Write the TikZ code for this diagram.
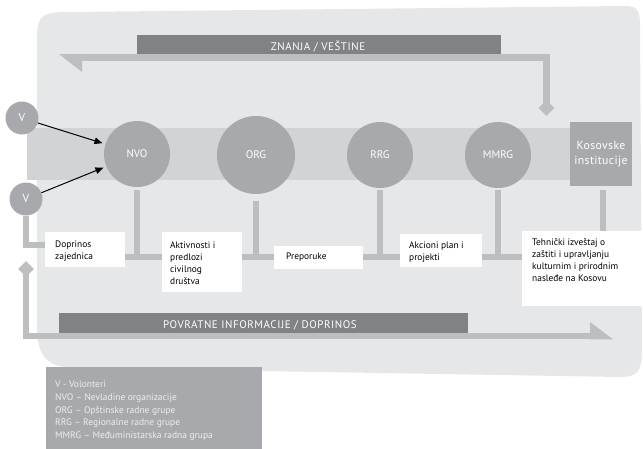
\documentclass[tikz,border=0pt]{standalone}
\usepackage{fontspec}
\setmainfont{PT Sans}
\newfontfamily\barfont[LetterSpace=5]{PT Sans}
\newfontfamily\kosfont[LetterSpace=3]{PT Sans}
\usetikzlibrary{arrows.meta,shapes.geometric}
\definecolor{blobc}{HTML}{E6E7E8}
\definecolor{bandc}{HTML}{D1D3D4}
\definecolor{circc}{HTML}{A7A9AC}
\definecolor{darkc}{HTML}{808285}
\definecolor{linec}{HTML}{BCBEC0}
\definecolor{legtext}{HTML}{EEEEEF}
\pgfdeclarelayer{bgA}
\pgfdeclarelayer{bgB}
\pgfsetlayers{bgA,bgB,main}
\begin{document}
\begin{tikzpicture}[x=1pt,y=-1pt,
  circ/.style={circle, fill=circc, inner sep=0, text=white, font=\fontsize{11}{13}\selectfont},
  wbox/.style={fill=white, inner sep=0, anchor=north west},
  txt/.style={anchor=north west, inner sep=0, align=left, font=\fontsize{9.4}{11.9}\selectfont},
  conn/.style={draw=linec, line width=6.5pt, line join=miter},
  bar/.style={fill=darkc, inner sep=0, anchor=north west},
  bartxt/.style={text=white, inner sep=0, font=\barfont\fontsize{11}{12}\selectfont, anchor=base},
  dmd/.style={diamond, fill=linec, inner sep=0, minimum width=16pt, minimum height=16pt},
  varrow/.style={draw=black, line width=1pt, -{Triangle[length=8pt,width=6.5pt]}, shorten >=3pt}
]
\useasboundingbox (0,0) rectangle (643,448);

% circles and institution box
\node[circ, minimum size=66pt] (nvo) at (137,154) {NVO};
\node[circ, minimum size=78pt] (org) at (256,155) {ORG};
\node[circ, minimum size=66pt] (rrg) at (380,155) {RRG};
\node[circ, minimum size=66pt] (mmrg) at (498,155) {MMRG};
\node[fill=circc, minimum width=62pt, minimum height=64pt, inner sep=0, text=white, align=center, font=\kosfont\fontsize{11.8}{15.5}\selectfont] (kos) at (601,154) {Kosovske\\institucije};
\node[circ, minimum size=33pt, font=\fontsize{11.5}{13}\selectfont] (v1) at (22,118) {V};
\node[circ, minimum size=33pt, font=\fontsize{11.5}{13}\selectfont] (v2) at (26,199) {V};

% white boxes
\node[wbox, minimum width=80pt, minimum height=35pt] (dop) at (45,232) {};
\node[wbox, minimum width=80pt, minimum height=60pt] (akt) at (162,232) {};
\node[wbox, minimum width=89pt, minimum height=23pt] (pre) at (274,246) {};
\node[wbox, minimum width=82pt, minimum height=33pt] (akc) at (400,234) {};
\node[wbox, minimum width=120pt, minimum height=75pt] (teh) at (522,231) {};

\node[txt] (tdop) at (55,239.3) {\rule{0pt}{8pt}Doprinos\\zajednica};
\node[txt] (takt) at (170,240.3) {\rule{0pt}{8pt}Aktivnosti i\\predlozi\\civilnog\\društva};
\node[txt] (tpre) at (286,251.3) {\rule{0pt}{8pt}Preporuke};
\node[txt] (takc) at (409,240.3) {\rule{0pt}{8pt}Akcioni plan i\\projekti};
\node[txt] (tteh) at (532,237.3) {\rule{0pt}{8pt}Tehnički izveštaj o\\zaštiti i upravljanju\\kulturnim i prirodnim\\nasleđe na Kosovu};

% bars
\node[bar, minimum width=364pt, minimum height=19pt] (znanja) at (137,35) {};
\node[bartxt] (tzn) at (318,50) {ZNANJA / VEŠTINE};
\node[bar, minimum width=409pt, minimum height=20pt] (povr) at (59,313) {};
\node[bartxt] (tpov) at (260,328.3) {POVRATNE INFORMACIJE / DOPRINOS};

% diamonds
\node[dmd] (d1) at (546.5,108) {};
\node[dmd] (d2) at (26,269) {};

% legend
\node[fill=circc, anchor=north west, minimum width=216pt, minimum height=85pt, inner sep=0] (leg) at (46,367) {};
\node[anchor=north west, inner sep=0, align=left, text=legtext, font=\fontsize{9.5}{12.9}\selectfont] (legt) at (55,379) {\rule{0pt}{8pt}V - Volonteri\\NVO – Nevladine organizacije\\ORG – Opštinske radne grupe\\RRG – Regionalne radne grupe\\MMRG – Međuministarska radna grupa};

% volunteer arrows
\draw[varrow] (v1) -- (nvo);
\draw[varrow] (v2) -- (nvo);

\begin{pgfonlayer}{bgA}
\fill[blobc] (37,36) .. controls (37,14) and (45,12) .. (70,12) -- (625,6) .. controls (637,6) and (640,10) .. (640,25) -- (642,350) .. controls (642,372) and (637,377) .. (620,377) -- (80,368) .. controls (50,368) and (38,360) .. (37,330) -- cycle;
\fill[bandc] (27,128) rectangle (600,180);
\end{pgfonlayer}

\begin{pgfonlayer}{bgB}
% knowledge arrow (top)
\coordinate (ktail) at (82,57.5);
\draw[conn] (ktail) -- (d1.center |- ktail) -- (d1.center);
\fill[linec] (59,54) -- (82,54) -- (82,72) -- cycle;
% feedback arrow (bottom)
\coordinate (ftip) at (590,336);
\draw[conn] (d2.center) -- (d2.center |- ftip) -- (ftip);
\fill[linec] (590,322) -- (590,339.25) -- (613,339.25) -- cycle;
% volunteer to community contribution
\draw[conn] (v2.south) -- (v2.south |- 0,245) -- (dop.west |- 0,245);
% main line
\draw[conn] (dop.east |- 0,257) -- (teh.west |- 0,257);
% stems
\draw[conn] ([yshift=-3pt]nvo.south) -- (nvo.south |- 0,260);
\draw[conn] ([yshift=-7pt]org.south) -- (org.south |- 0,260);
\draw[conn] ([yshift=-2pt]rrg.south) -- (rrg.south |- 0,260);
\draw[conn] ([yshift=-2pt]mmrg.south) -- (mmrg.south |- 0,260);
\draw[conn] (603,190) -- (teh.north -| 603,0);
\end{pgfonlayer}
\end{tikzpicture}
\end{document}
